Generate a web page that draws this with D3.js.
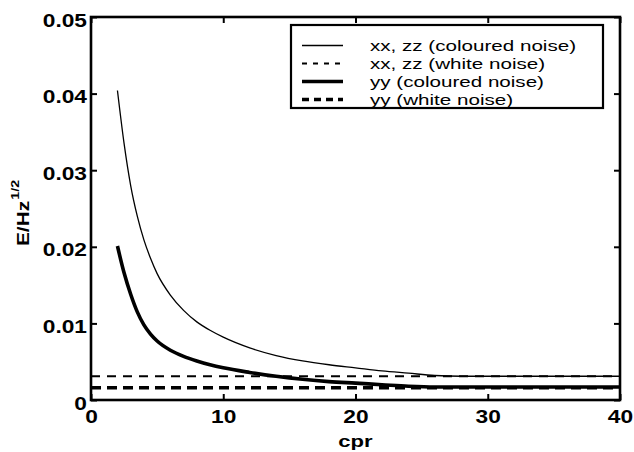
<!DOCTYPE html>
<html>
<head>
<meta charset="utf-8">
<script src="https://cdn.jsdelivr.net/npm/d3@7"></script>
<style>
  html, body { margin: 0; padding: 0; background: #fff; }
  svg { display: block; }
</style>
</head>
<body>
<svg id="chart" width="634" height="452"></svg>
<script>
// ---- data ----
const cpr = [2, 2.5, 3, 3.5, 4, 4.5, 5, 6, 7, 8, 9, 10, 12, 14, 16, 18, 20, 22, 24, 26, 28, 30, 35, 40];
const xxColoured = [0.0404, 0.0335, 0.0280, 0.0240, 0.0209, 0.0185, 0.0165, 0.0137, 0.0117, 0.0102,
                    0.0091, 0.0082, 0.0068, 0.0058, 0.0051, 0.0046, 0.0042, 0.0038, 0.0035, 0.0032,
                    0.0031, 0.0031, 0.0031, 0.0031];
const yyColoured = [0.0201, 0.0166, 0.0138, 0.0115, 0.0098, 0.0086, 0.0077, 0.0065, 0.0057, 0.0051,
                    0.0046, 0.0042, 0.0036, 0.0031, 0.0027, 0.0024, 0.0022, 0.0020, 0.0018, 0.0017,
                    0.0017, 0.0017, 0.0017, 0.0017];
const whiteCpr = [0, 40];
const xxWhite = [0.0031, 0.0031];
const yyWhite = [0.0016, 0.0016];
const xTicks = [0, 10, 20, 30, 40];
const yTicks = [0, 0.01, 0.02, 0.03, 0.04, 0.05];
const yTickLabels = ["0", "0.01", "0.02", "0.03", "0.04", "0.05"];
const legendLabels = ["xx, zz (coloured noise)", "xx, zz (white noise)", "yy (coloured noise)", "yy (white noise)"];

// ---- layout ----
const svg = d3.select("#chart");
const L = 91, R = 620, T = 17, B = 400;
const x = d3.scaleLinear().domain([0, 40]).range([L, R]);
const y = d3.scaleLinear().domain([0, 0.05]).range([B, T]);
const FONT = "'Liberation Sans', Arial, Helvetica, sans-serif";
const SX = 1.3; // horizontal stretch of the original's wide font

const series = [
  { xs: cpr, ys: xxColoured, width: 1.3, dash: null },
  { xs: whiteCpr, ys: xxWhite, width: 2.2, dash: "9,7" },
  { xs: cpr, ys: yyColoured, width: 3.6, dash: null },
  { xs: whiteCpr, ys: yyWhite, width: 3.4, dash: "10,6" }
];

const line = d3.line().x(d => x(d[0])).y(d => y(d[1])).curve(d3.curveMonotoneX);

series.forEach(s => {
  const pts = s.xs.map((v, i) => [v, s.ys[i]]);
  svg.append("path")
    .attr("d", line(pts))
    .attr("fill", "none")
    .attr("stroke", "#000")
    .attr("stroke-width", s.width)
    .attr("stroke-dasharray", s.dash);
});

// axes (inward ticks, MATLAB-style box)
function styleAxis(g) {
  g.select(".domain").remove();
  g.selectAll(".tick line").attr("stroke", "#000").attr("stroke-width", 2);
}
const gB = svg.append("g").attr("transform", `translate(0,${B})`)
  .call(d3.axisBottom(x).tickValues(xTicks).tickSizeInner(-6).tickSizeOuter(0).tickPadding(0).tickFormat(d3.format("d")));
styleAxis(gB);
gB.selectAll(".tick text")
  .attr("y", 0).attr("dy", null)
  .attr("transform", `translate(0,23) scale(${SX},1)`)
  .attr("font-family", FONT).attr("font-size", 17.5).attr("font-weight", "bold").attr("fill", "#000");

const gT = svg.append("g").attr("transform", `translate(0,${T})`)
  .call(d3.axisTop(x).tickValues(xTicks).tickSizeInner(-6).tickSizeOuter(0).tickFormat(""));
styleAxis(gT);

const gL = svg.append("g").attr("transform", `translate(${L},0)`)
  .call(d3.axisLeft(y).tickValues(yTicks).tickSizeInner(-6).tickSizeOuter(0)
    .tickFormat((d, i) => yTickLabels[i]));
styleAxis(gL);
gL.selectAll(".tick text")
  .attr("x", 0).attr("dy", null).attr("y", 0)
  .attr("text-anchor", "end")
  .attr("transform", `translate(-4,9) scale(${SX},1)`)
  .attr("font-family", FONT).attr("font-size", 17.5).attr("font-weight", "bold").attr("fill", "#000");

const gR = svg.append("g").attr("transform", `translate(${R},0)`)
  .call(d3.axisRight(y).tickValues(yTicks).tickSizeInner(-6).tickSizeOuter(0).tickFormat(""));
styleAxis(gR);

// frame
svg.append("rect")
  .attr("x", L).attr("y", T).attr("width", R - L).attr("height", B - T)
  .attr("fill", "none").attr("stroke", "#000").attr("stroke-width", 2.6);

// axis labels
svg.append("text")
  .attr("transform", `translate(${(L + R) / 2},447) scale(${SX},1)`)
  .attr("text-anchor", "middle")
  .attr("font-family", FONT).attr("font-size", 17).attr("font-weight", "bold")
  .text("cpr");

const yl = svg.append("text")
  .attr("transform", `translate(29,246) rotate(-90) scale(${SX},1)`)
  .attr("text-anchor", "start")
  .attr("font-family", FONT).attr("font-size", 16).attr("font-weight", "bold");
yl.append("tspan").text("E/Hz");
yl.append("tspan").attr("font-size", 11).attr("dy", -10).attr("dx", 1).text("1/2");

// legend
const lg = svg.append("g");
lg.append("rect")
  .attr("x", 291).attr("y", 25).attr("width", 312).attr("height", 83)
  .attr("fill", "#fff").attr("stroke", "#000").attr("stroke-width", 2.2);
const rowY = [45.5, 63.5, 81.5, 99.5];
series.forEach((s, i) => {
  lg.append("line")
    .attr("x1", 302).attr("x2", 343).attr("y1", rowY[i]).attr("y2", rowY[i])
    .attr("stroke", "#000").attr("stroke-width", s.width)
    .attr("stroke-dasharray", s.dash ? (i === 1 ? "5,6" : "7,5") : null);
  lg.append("text")
    .attr("transform", `translate(370,${rowY[i] + 5.5}) scale(1.33,1)`)
    .attr("font-family", FONT).attr("font-size", 15.5)
    .text(legendLabels[i]);
});
</script>
</body>
</html>
